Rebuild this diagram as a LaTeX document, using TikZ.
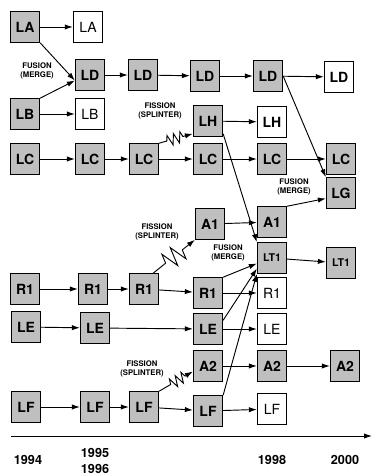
\documentclass[tikz,border=0pt]{standalone}
\usepackage{fontspec}
\setmainfont{TeX Gyre Heros}
\usetikzlibrary{arrows.meta,decorations.pathmorphing}

\begin{document}
\begin{tikzpicture}[x=0.75pt,y=-0.75pt,line width=0.7pt,
  grp/.style={draw,fill=black!25,minimum width=22pt,minimum height=23pt,inner sep=0pt,font=\fontsize{10.5}{12}\selectfont\bfseries},
  gone/.style={draw,fill=white,minimum width=22pt,minimum height=23pt,inner sep=0pt,font=\fontsize{10.5}{12}\selectfont},
  goneb/.style={gone,font=\fontsize{10.5}{12}\selectfont\bfseries},
  evt/.style={align=center,inner sep=0pt,font=\fontsize{5.8}{6.8}\selectfont\bfseries},
  yr/.style={align=center,inner sep=0pt,font=\fontsize{9.5}{11.5}\selectfont\bfseries},
  link/.style={-{Latex[length=6pt,width=4pt]}},
  split/.style={link,decorate,decoration={zigzag,amplitude=4pt,segment length=5pt}}]
\useasboundingbox (0,0) rectangle (373,475);

% 1994
\node[grp] (la0) at (25,27) {LA};
\node[grp] (lb0) at (25,114) {LB};
\node[grp] (lc0) at (25,159) {LC};
\node[grp] (r10) at (25,289) {R1};
\node[grp] (le0) at (26,327) {LE};
\node[grp] (lf0) at (26,407) {LF};

% 1995
\node[gone] (la1) at (88,27) {LA};
\node[grp] (ld1) at (90,75) {LD};
\node[gone] (lb1) at (90,114) {LB};
\node[grp] (lc1) at (90,159) {LC};
\node[grp] (r11) at (93,289) {R1};
\node[grp] (le1) at (95,328) {LE};
\node[grp] (lf1) at (95,407) {LF};

% 1996
\node[grp] (ld2) at (143,75) {LD};
\node[grp] (lc2) at (144,159) {LC};
\node[grp] (r12) at (144,289) {R1};
\node[grp] (lf2) at (144,407) {LF};

% 1997
\node[grp] (ld3) at (205,76) {LD};
\node[grp] (lh3) at (208,121) {LH};
\node[grp] (lc3) at (208,159) {LC};
\node[grp] (a13) at (210,224) {A1};
\node[grp] (r13) at (208,293) {R1};
\node[grp] (le3) at (208,329) {LE};
\node[grp] (a23) at (208,366) {A2};
\node[grp] (lf3) at (208,411) {LF};

% 1998
\node[grp] (ld4) at (268,76) {LD};
\node[goneb] (lh4) at (272,122) {LH};
\node[grp] (lc4) at (272,159) {LC};
\node[grp] (a14) at (272,222) {A1};
\node[grp,font=\fontsize{8}{9}\selectfont\bfseries] (lt4) at (272,258) {LT1};
\node[gone] (r14) at (272,293) {R1};
\node[gone] (le4) at (272,329) {LE};
\node[grp] (a24) at (272,366) {A2};
\node[gone] (lf4) at (272,409) {LF};

% 2000
\node[goneb] (ld5) at (339,77) {LD};
\node[grp] (lc5) at (341,159) {LC};
\node[grp] (lg5) at (341,193) {LG};
\node[grp,font=\fontsize{8}{9}\selectfont\bfseries] (lt5) at (341,263) {LT1};
\node[grp] (a25) at (345,366) {A2};

% events
\node[evt] (fu1) at (37,71) {FUSION\\(MERGE)};
\node[evt] (fi1) at (160,111) {FISSION\\(SPLINTER)};
\node[evt] (fu2) at (294,187) {FUSION\\(MERGE)};
\node[evt] (fi2) at (157,232) {FISSION\\(SPLINTER)};
\node[evt] (fu3) at (228,253) {FUSION\\(MERGE)};
\node[evt] (fi3) at (142,369) {FISSION\\(SPLINTER)};

% lines of descent
\draw[link] (la0) -- (la1);
\draw[link] (la0.south east) -- (ld1.200);
\draw[link] (lb0.north east) -- (ld1.200);
\draw[link] (lb0) -- (lb1);
\draw[link] (ld1) -- (ld2);
\draw[link] (ld2) -- (ld3);
\draw[link] (ld3) -- (ld4);
\draw[link] (ld4) -- (ld5);
\draw[link] (ld4.east) -- (lg5.north west);
\draw[link] (lc0) -- (lc1);
\draw[link] (lc1) -- (lc2);
\draw[link] (lc2) -- (lc3);
\draw[link] (lc3) -- (lc4);
\draw[link] (lc4) -- (lc5);
\draw[split,decoration={pre length=6pt,post length=6pt}] (lc2.north east) -- (lh3.220);
\draw[link] (lh3) -- (lh4);
\draw[link] (lh3.-40) -- (lt4.north west);
\draw[split,decoration={amplitude=7pt,segment length=8pt,pre length=12pt,post length=9pt}] (r12.60) -- (a13.south west);
\draw[link] (a13) -- (a14);
\draw[link] (a14.north east) -- (lg5.200);
\draw[link] (lt4) -- (lt5);
\draw[link] (r10) -- (r11);
\draw[link] (r11) -- (r12);
\draw[link] (r12) -- (r13);
\draw[link] (r13) -- (r14);
\draw[link] (r13.north east) -- (lt4.200);
\draw[link] (le0) -- (le1);
\draw[link] (le1) -- (le3);
\draw[link] (le3) -- (le4);
\draw[link] (le3.30) -- (lt4.215);
\draw[split,decoration={pre length=10pt,post length=6pt}] (lf2.north east) -- (a23.200);
\draw[link] (a23) -- (a24);
\draw[link] (a24) -- (a25);
\draw[link] (lf0) -- (lf1);
\draw[link] (lf1) -- (lf2);
\draw[link] (lf2) -- (lf3);
\draw[link] (lf3) -- (lf4);
\draw[link] (lf3.north east) -- (lt4.south west);

% time axis
\coordinate (t0) at (11,436);
\coordinate (t1) at (372,436);
\draw[link] (t0) -- (t1);
\node[yr] (y94) at (28,460) {1994};
\node[yr] (y95) at (95,461) {1995\\1996};
\node[yr] (y98) at (272,460) {1998};
\node[yr] (y00) at (345,460) {2000};
\end{tikzpicture}
\end{document}
